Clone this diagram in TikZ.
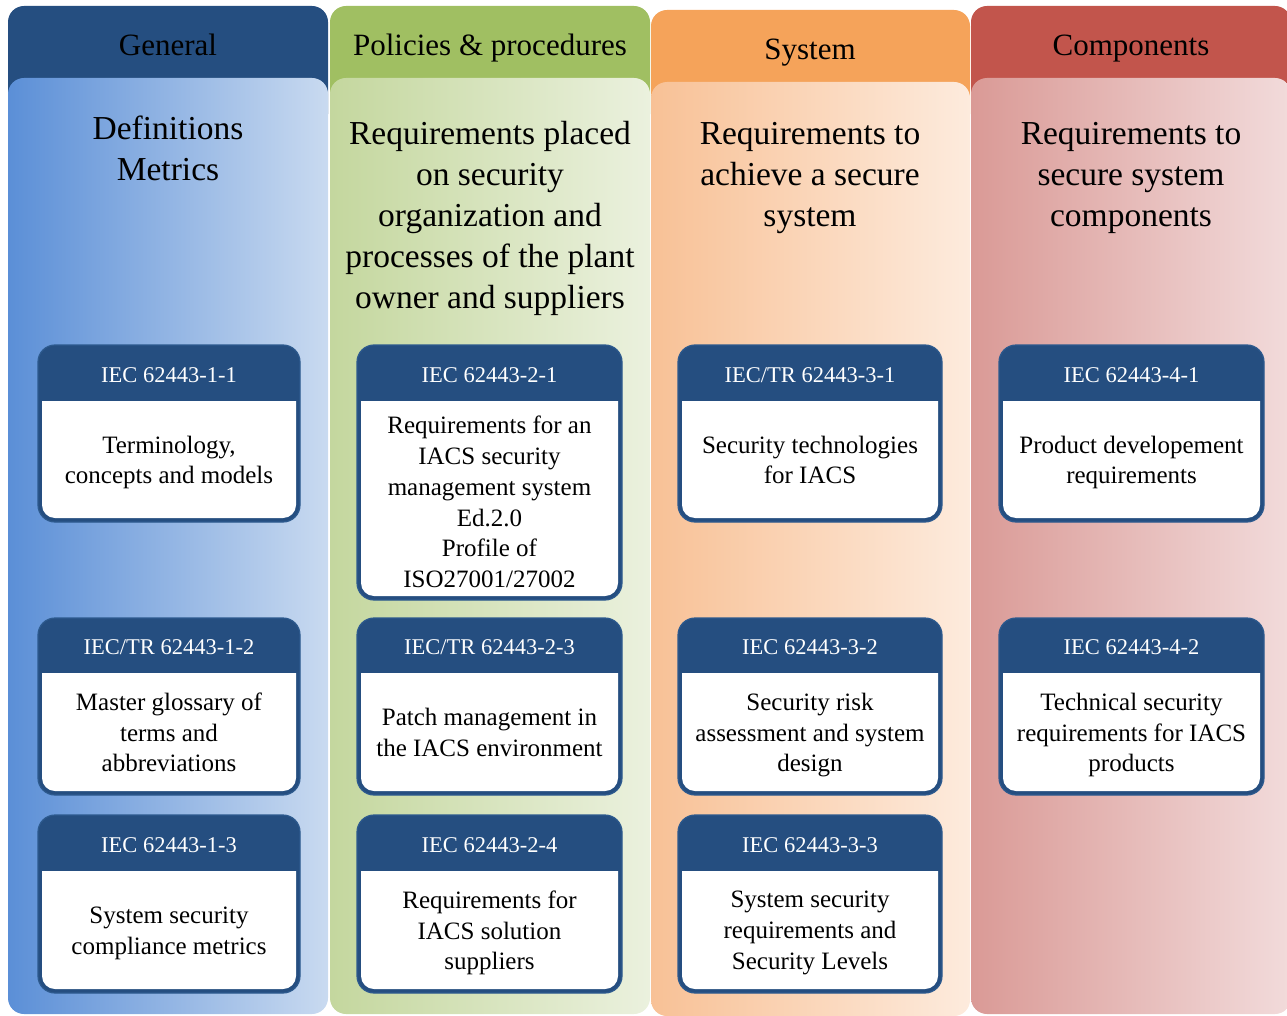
\documentclass[tikz,border=0pt]{standalone}
\usepackage{fontspec}
\setmainfont{Liberation Serif}
\usetikzlibrary{calc}

% column palette
\definecolor{genhead}{HTML}{254E80}
\definecolor{genl}{HTML}{5B8FD7}
\definecolor{genr}{HTML}{C9DAF0}
\definecolor{polhead}{HTML}{A0BF62}
\definecolor{poll}{HTML}{C4D79E}
\definecolor{polr}{HTML}{EBF1DE}
\definecolor{syshead}{HTML}{F5A35A}
\definecolor{sysl}{HTML}{F8C196}
\definecolor{sysr}{HTML}{FDEBDD}
\definecolor{comhead}{HTML}{C2554C}
\definecolor{coml}{HTML}{DA9A96}
\definecolor{comr}{HTML}{F2DBDB}
% standard cards
\definecolor{cardblue}{HTML}{254E80}
\definecolor{cardedge}{HTML}{2D5A8E}

\tikzset{
  colhead/.style={inner sep=0pt, anchor=base, font=\fontsize{31}{37}\selectfont, text=black},
  coltitle/.style={inner sep=0pt, align=center, font=\fontsize{33.5}{41}\selectfont, text=black,
    execute at begin node=\strut, execute at end node=\strut},
  cardcode/.style={inner sep=0pt, font=\fontsize{22.5}{27}\selectfont, text=white,
    execute at begin node=\strut},
  cardtext/.style={inner sep=0pt, align=center, font=\fontsize{25}{30.8}\selectfont, text=black,
    execute at begin node=\strut, execute at end node=\strut},
}

% #1 name, #2 left, #3 top, #4 right, #5 bottom, #6 bottom of title band,
% #7 code, #8 description, #9 extra downward shift of the description
\newcommand{\isacard}[9]{%
  \fill[cardblue, rounded corners=17pt] (#2,#3) rectangle (#4,#5);
  \fill[white, rounded corners=13pt] ({#2+4},{#6-16}) rectangle ({#4-4},{#5-4});
  \fill[cardblue] ({#2+3},{#6-17}) rectangle ({#4-3},#6);
  \draw[cardedge, line width=1.2pt, rounded corners=17pt] (#2,#3) rectangle (#4,#5);
  \node[cardcode] (#1-code) at ({(#2+#4)/2},{(#3+#6)/2+4}) {#7};
  \node[cardtext] (#1-text) at ({(#2+#4)/2},{(#6+#5)/2+3+#9}) {#8};
}

\begin{document}
\begin{tikzpicture}[x=1pt,y=-1pt]
\useasboundingbox (0,0) rectangle (1287,1016);
\clip (0,0) rectangle (1287,1016);

% column bands: coloured tab, then shaded panel in front of it
\fill[genhead, rounded corners=16pt] (8,6) rectangle (328,130);
\shade[left color=genl, right color=genr, rounded corners=16pt] (8,78) rectangle (328,1014);
\fill[polhead, rounded corners=16pt] (330,6) rectangle (650,130);
\shade[left color=poll, right color=polr, rounded corners=16pt] (330,78) rectangle (650,1014);
\fill[syshead, rounded corners=16pt] (651,10) rectangle (970,130);
\shade[left color=sysl, right color=sysr, rounded corners=16pt] (651,82) rectangle (970,1016);
\fill[comhead, rounded corners=16pt] (971,6) rectangle (1291,130);
\shade[left color=coml, right color=comr, rounded corners=16pt] (971,78) rectangle (1291,1014);

% column headings
\node[colhead] (h1) at (168,56) {General};
\node[colhead] (h2) at (490,56) {Policies \& procedures};
\node[colhead] (h3) at (810,60) {System};
\node[colhead] (h4) at (1131,56) {Components};

% column scopes
\node[coltitle] (t1) at (168,154) {Definitions\\Metrics};
\node[coltitle] (t2) at (490,221) {Requirements placed\\on security\\organization and\\processes of the plant\\owner and suppliers};
\node[coltitle] (t3) at (810,181) {Requirements to\\achieve a secure\\system};
\node[coltitle] (t4) at (1131,181) {Requirements to\\secure system\\components};

% standards
\isacard{c11}{38}{345}{300}{522}{401}{IEC 62443-1-1}{Terminology,\\concepts and models}{0}
\isacard{c12}{38}{618}{300}{795}{673}{IEC/TR 62443-1-2}{Master glossary of\\terms and\\abbreviations}{0}
\isacard{c13}{38}{815}{300}{993}{871}{IEC 62443-1-3}{System security\\compliance metrics}{0}
\isacard{c21}{357}{345}{622}{600}{401}{IEC 62443-2-1}{Requirements for an\\IACS security\\management system\\Ed.2.0\\Profile of\\ISO27001/27002}{3}
\isacard{c22}{357}{618}{622}{795}{673}{IEC/TR 62443-2-3}{Patch management in\\the IACS environment}{0}
\isacard{c23}{357}{815}{622}{993}{871}{IEC 62443-2-4}{Requirements for\\IACS solution\\suppliers}{0}
\isacard{c31}{678}{345}{942}{522}{401}{IEC/TR 62443-3-1}{Security technologies\\for IACS}{0}
\isacard{c32}{678}{618}{942}{795}{673}{IEC 62443-3-2}{Security risk\\assessment and system\\design}{0}
\isacard{c33}{678}{815}{942}{993}{871}{IEC 62443-3-3}{System security\\requirements and\\Security Levels}{0}
\isacard{c41}{999}{345}{1264}{522}{401}{IEC 62443-4-1}{Product developement\\requirements}{0}
\isacard{c42}{999}{618}{1264}{795}{673}{IEC 62443-4-2}{Technical security\\requirements for IACS\\products}{0}
\end{tikzpicture}
\end{document}
